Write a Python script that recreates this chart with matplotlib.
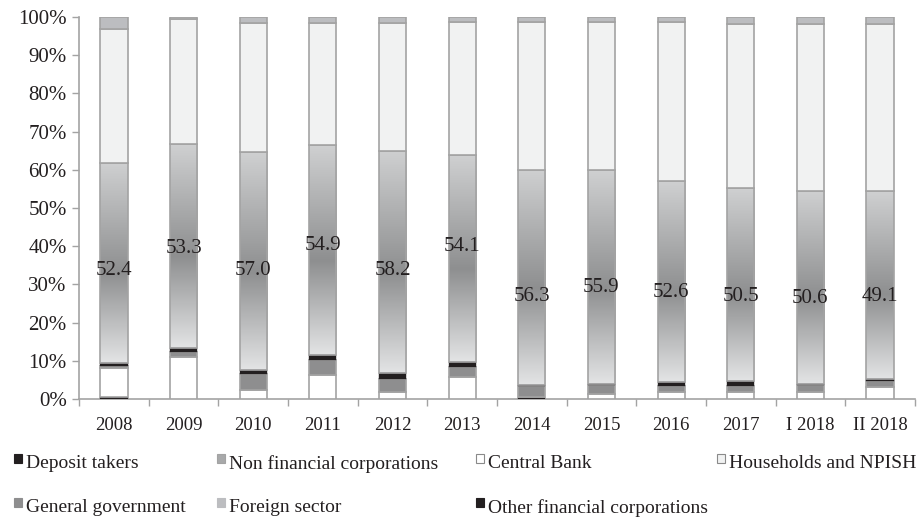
import numpy as np
import matplotlib
matplotlib.use("Agg")
import matplotlib.pyplot as plt
from matplotlib.colors import LinearSegmentedColormap
from matplotlib.patches import Rectangle

# ---------------- data ----------------
categories = ["2008", "2009", "2010", "2011", "2012", "2013", "2014",
              "2015", "2016", "2017", "I 2018", "II 2018"]
deposit_takers = [0.6, 0.0, 0.0, 0.0, 0.0, 0.0, 0.4, 0.1, 0.0, 0.0, 0.0, 0.0]
central_bank = [7.5, 11.1, 2.3, 6.4, 1.9, 5.7, 0.0, 1.3, 1.9, 1.9, 1.9, 3.1]
general_government = [0.6, 1.3, 4.3, 3.8, 3.4, 2.8, 2.9, 2.3, 1.5, 1.6, 1.7, 1.7]
other_financial = [0.8, 1.0, 1.0, 1.3, 1.5, 1.2, 0.4, 0.3, 1.1, 1.2, 0.3, 0.5]
non_financial = [52.4, 53.3, 57.0, 54.9, 58.2, 54.1, 56.3, 55.9, 52.6, 50.5, 50.6, 49.1]
foreign_sector = [3.1, 0.5, 1.7, 1.7, 1.7, 1.2, 1.2, 1.2, 1.2, 1.9, 1.9, 1.9]
households = [100 - a - b - c - d - e - f for a, b, c, d, e, f in
              zip(deposit_takers, central_bank, general_government,
                  other_financial, non_financial, foreign_sector)]

# label placement (shift from segment centre, in % points)
label_shift = [-2.0, -0.6, -2.4, 1.2, -2.2, 3.3, -5.0, -2.7, -2.9, -3.0, -2.8, -2.9]

# ---------------- style ----------------
plt.rcParams['font.family'] = ['Liberation Serif', 'DejaVu Serif']
TXT = "#231f20"
EDGE = "#a3a3a3"
BLACK = "#231f20"
GG_C = "#8e8e8f"
CB_C = "#ffffff"
HH_C = "#f1f2f2"
FS_C = "#bcbdc0"
NFC_C = "#a8a9aa"

fig = plt.figure(figsize=(9.18, 5.22), dpi=100)
ax = fig.add_axes([79.2 / 918, 123 / 522, (914.8 - 79.2) / 918, 382 / 522])

x = np.arange(len(categories))
width = 0.39
lw = 1.2

series = [
    ("Deposit takers", deposit_takers, BLACK),
    ("Central Bank", central_bank, CB_C),
    ("General government", general_government, GG_C),
    ("Other financial corporations", other_financial, BLACK),
    ("Non financial corporations", non_financial, None),
    ("Households and NPISH", households, HH_C),
    ("Foreign sector", foreign_sector, FS_C),
]

grad = LinearSegmentedColormap.from_list(
    "nfc", [(0.0, "#e3e4e5"), (0.45, "#8e8f90"), (1.0, "#cfd0d1")])
gimg = grad(np.linspace(0, 1, 256))[:, None, :3]

bottom = np.zeros(len(categories))
for name, vals, col in series:
    vals = np.array(vals, dtype=float)
    if col is None:
        bars = ax.bar(x, vals, width, bottom=bottom, facecolor="none",
                      edgecolor=EDGE, linewidth=lw, zorder=3)
        for xi, b, v, bar in zip(x, bottom, vals, bars):
            im = ax.imshow(gimg, extent=[xi - width / 2, xi + width / 2, b, b + v],
                           origin="lower", aspect="auto", zorder=2,
                           interpolation="bilinear")
            im.set_clip_path(bar)
    else:
        ec = EDGE if col in (CB_C, HH_C, FS_C, GG_C) else BLACK
        ax.bar(x, vals, width, bottom=bottom, color=col, edgecolor=ec,
               linewidth=lw if col != BLACK else 0.3, zorder=3)
    if name == "Non financial corporations":
        for xi, b, v, s in zip(x, bottom, vals, label_shift):
            ax.text(xi, b + v / 2 + s, f"{v:.1f}", ha="center", va="center",
                    fontsize=15, color=TXT, zorder=5)
    bottom += vals

ax.set_xlim(-0.5, len(categories) - 0.5)
ax.set_ylim(0, 100)

ax.set_yticks(np.arange(0, 101, 10))
ax.set_yticklabels([f"{v}%" for v in range(0, 101, 10)])
ax.set_xticks(x)
ax.set_xticklabels(categories)
ax.set_xticks(np.arange(-0.5, len(categories), 1), minor=True)
ax.tick_params(axis="x", which="major", length=0, pad=13, labelsize=13.5, labelcolor=TXT)
ax.tick_params(axis="x", which="minor", length=5, width=1, color=EDGE, direction="out")
ax.tick_params(axis="y", length=5, width=1, color=EDGE, pad=4, labelsize=15, labelcolor=TXT)

for sp in ["top", "right"]:
    ax.spines[sp].set_visible(False)
for sp in ["left", "bottom"]:
    ax.spines[sp].set_color(EDGE)
    ax.spines[sp].set_linewidth(1.2)

# ---------------- legend (manual layout) ----------------
legend_items = [
    ("Deposit takers", BLACK, BLACK, 14, 0),
    ("Non financial corporations", NFC_C, EDGE, 217, 0),
    ("Central Bank", CB_C, "#8a8a8a", 476, 0),
    ("Households and NPISH", HH_C, "#8a8a8a", 717, 0),
    ("General government", GG_C, GG_C, 14, 1),
    ("Foreign sector", FS_C, FS_C, 217, 1),
    ("Other financial corporations", BLACK, BLACK, 476, 1),
]
row_y = [464, 508]
W, H = 918, 522
for name, fc, ec, px, row in legend_items:
    yc = row_y[row]
    fig.patches.append(Rectangle((px / W, (H - yc + 1) / H), 8 / W, 9 / H,
                                 transform=fig.transFigure, facecolor=fc,
                                 edgecolor=ec, linewidth=0.8))
    fig.text((px + 12) / W, (H - yc) / H, name, ha="left", va="center",
             fontsize=14, color=TXT)

fig.savefig("out.png", dpi=100)
